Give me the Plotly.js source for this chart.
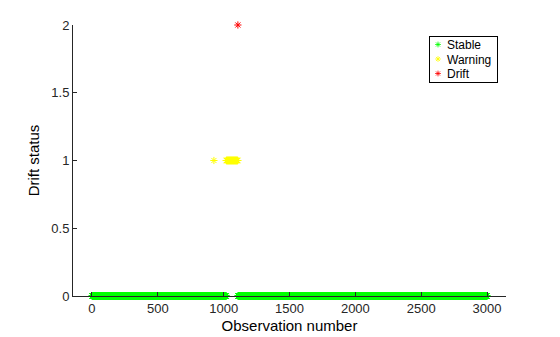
<!DOCTYPE html>
<html>
<head>
<meta charset="utf-8">
<script src="https://cdn.plot.ly/plotly-3.0.1.min.js"></script>
<style>html,body{margin:0;padding:0;background:#fff;}#chart{width:560px;height:337px;}</style>
</head>
<body>
<div id="chart"></div>
<script>
// Observation index ranges (inclusive) for each drift status
const stableRanges = [[1, 925], [927, 1019], [1109, 3000]];
const warningRanges = [[926, 926], [1020, 1107]];
const driftRanges = [[1108, 1108]];
const statusValues = { Stable: 0, Warning: 1, Drift: 2 };
const xTicks = [0, 500, 1000, 1500, 2000, 2500, 3000];
const yTicks = [0, 0.5, 1, 1.5, 2];
const yTickLabels = ['0', '0.5', '1', '1.5', '2'];

function expand(ranges) {
  const out = [];
  ranges.forEach(r => { for (let i = r[0]; i <= r[1]; i++) out.push(i); });
  return out;
}
function mk(name, ranges, color) {
  const xs = expand(ranges);
  return {
    x: xs, y: xs.map(() => statusValues[name]), name: name,
    type: 'scatter', mode: 'markers', cliponaxis: false,
    marker: { symbol: 'asterisk-open', size: 6, color: color, line: { color: color, width: 1 } }
  };
}
const data = [
  mk('Stable', stableRanges, '#00ff00'),
  mk('Warning', warningRanges, '#ffff00'),
  mk('Drift', driftRanges, '#ff0000')
];
const font = { family: 'Liberation Sans, Arial, sans-serif', size: 13, color: '#262626' };
const layout = {
  width: 560, height: 337,
  margin: { l: 73, r: 54, t: 25, b: 41 },
  paper_bgcolor: '#fff', plot_bgcolor: '#fff',
  font: font, showlegend: true,
  legend: {
    x: 0.985, y: 0.96, xanchor: 'right', yanchor: 'top',
    bordercolor: '#000', borderwidth: 1, bgcolor: '#fff',
    font: { family: font.family, size: 12, color: '#000' },
    itemwidth: 30, tracegroupgap: 0
  },
  xaxis: {
    range: [-144, 3144], tickvals: xTicks, ticktext: xTicks.map(String),
    ticks: 'inside', ticklen: 4, tickcolor: '#262626',
    showline: true, linecolor: '#262626', linewidth: 1,
    showgrid: false, zeroline: false,
    title: { text: 'Observation number', font: { family: font.family, size: 15, color: '#000' }, standoff: 5 }
  },
  yaxis: {
    range: [0, 2], tickvals: yTicks, ticktext: yTickLabels,
    ticks: 'inside', ticklen: 4, tickcolor: '#262626',
    showline: true, linecolor: '#262626', linewidth: 1,
    showgrid: false, zeroline: false,
    title: { text: 'Drift status', font: { family: font.family, size: 15, color: '#000' }, standoff: 8 }
  }
};
Plotly.newPlot('chart', data, layout, { displayModeBar: false, staticPlot: true }).then(gd => {
  // compact the legend to match the reference box
  const leg = gd.querySelector('g.legend');
  if (!leg) return;
  leg.setAttribute('transform', 'translate(429,36)');
  const bg = leg.querySelector('rect.bg');
  if (bg) { bg.setAttribute('width', 68); bg.setAttribute('height', 46); bg.setAttribute('x', 0.5); bg.setAttribute('y', 0.5); }
  const sb = leg.querySelector('g.scrollbox');
  if (sb) sb.setAttribute('transform', 'translate(0,0)');
  leg.querySelectorAll('g.groups').forEach(g => g.setAttribute('transform', 'translate(0,0)'));
  leg.querySelectorAll('g.traces').forEach((t, i) => {
    t.setAttribute('transform', 'translate(0,' + (8.5 + i * 14.5) + ')');
    const txt = t.querySelector('text.legendtext');
    if (txt) { txt.setAttribute('x', 18); txt.setAttribute('y', 4.5); }
    t.querySelectorAll('g.legendpoints path').forEach(p => p.setAttribute('transform', 'translate(9,0) scale(0.8)'));
  });
});
</script>
</body>
</html>
